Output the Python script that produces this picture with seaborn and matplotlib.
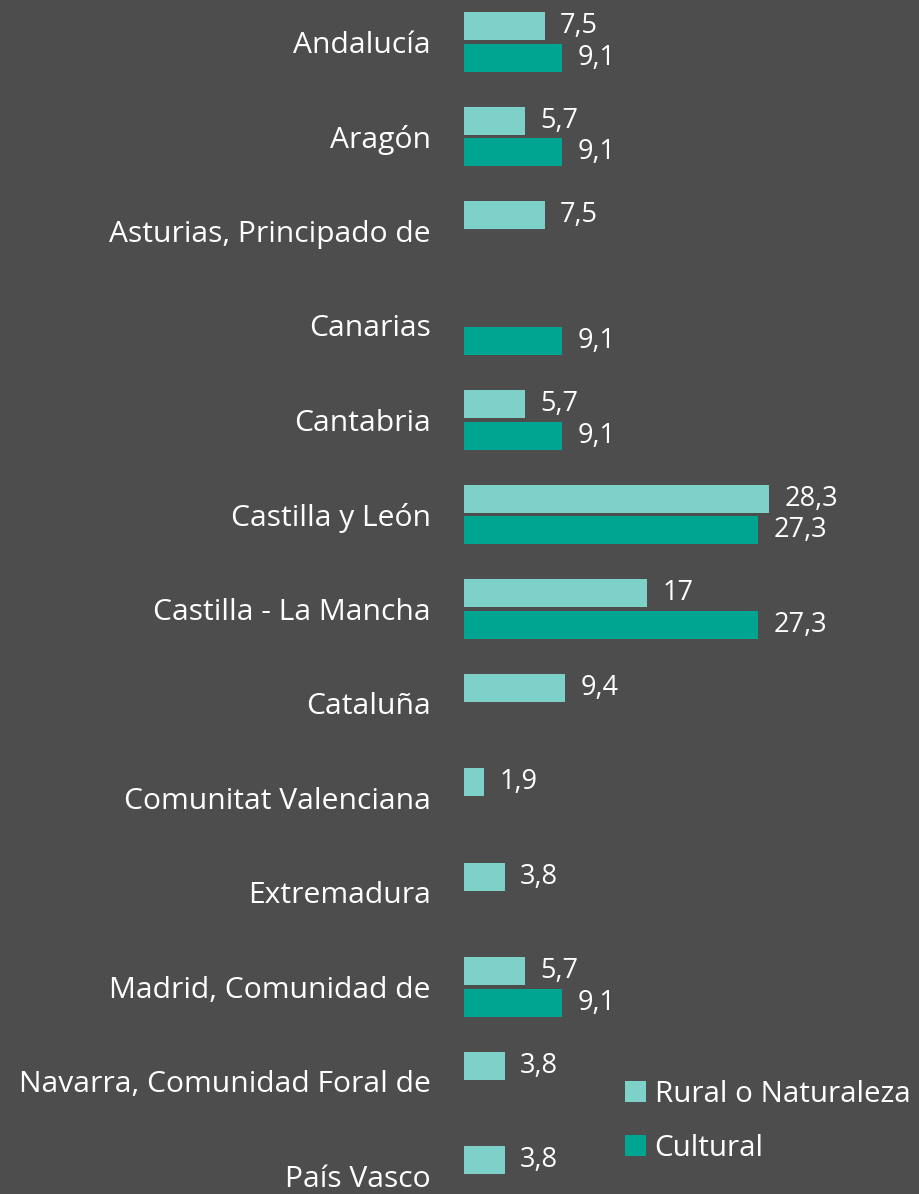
import matplotlib
matplotlib.use("Agg")
import matplotlib.pyplot as plt
import pandas as pd
import seaborn as sns

regions = ["Andalucía", "Aragón", "Asturias, Principado de", "Canarias", "Cantabria",
           "Castilla y León", "Castilla - La Mancha", "Cataluña", "Comunitat Valenciana",
           "Extremadura", "Madrid, Comunidad de", "Navarra, Comunidad Foral de", "País Vasco"]
rural = [7.5, 5.7, 7.5, None, 5.7, 28.3, 17, 9.4, 1.9, 3.8, 5.7, 3.8, 3.8]
cultural = [9.1, 9.1, None, 9.1, 9.1, 27.3, 27.3, None, None, None, 9.1, None, None]
series = ["Rural o Naturaleza", "Cultural"]
colors = ["#7dd1c9", "#00a591"]

BG = "#4d4d4d"

rows = []
for reg, r, c in zip(regions, rural, cultural):
    if r is not None:
        rows.append((reg, series[0], r))
    if c is not None:
        rows.append((reg, series[1], c))
df = pd.DataFrame(rows, columns=["region", "tipo", "valor"])

sns.set_theme(style="white")
plt.rcParams["font.family"] = ["Open Sans", "DejaVu Sans"]

fig = plt.figure(figsize=(9.19, 11.94), dpi=100, facecolor=BG)
ax = fig.add_axes([464 / 919, 0, 455 / 919, 1])
ax.set_facecolor(BG)

sns.barplot(data=df, y="region", x="valor", hue="tipo", order=regions,
            hue_order=series, palette=colors, saturation=1, orient="h",
            width=0.66, gap=0.1, errorbar=None, linewidth=0, ax=ax, legend=True)

# etiquetas de valor con coma decimal
for cont in ax.containers:
    labels = [f"{b.get_width():g}".replace(".", ",") for b in cont]
    ax.bar_label(cont, labels=labels, padding=11, color="white", fontsize=19.5)

ax.set_xlim(0, 42.2)
ax.set_ylim(-0.444 + 1194 / 94.5, -0.444)
ax.set_xlabel("")
ax.set_ylabel("")
ax.set_xticks([])
ax.tick_params(axis="y", length=0, pad=24, labelsize=21.6, labelcolor="white")
for s in ax.spines.values():
    s.set_visible(False)

handles, lbls = ax.get_legend_handles_labels()
ax.get_legend().remove()
fig.legend(handles, lbls, loc="lower left", bbox_to_anchor=(625 / 919, 0.026),
           bbox_transform=fig.transFigure, frameon=False, borderpad=0, borderaxespad=0,
           fontsize=21.3, labelcolor="white", handlelength=0.7, handleheight=0.7,
           handletextpad=0.3, labelspacing=0.85)

fig.savefig("out.png", dpi=100, facecolor=BG)
